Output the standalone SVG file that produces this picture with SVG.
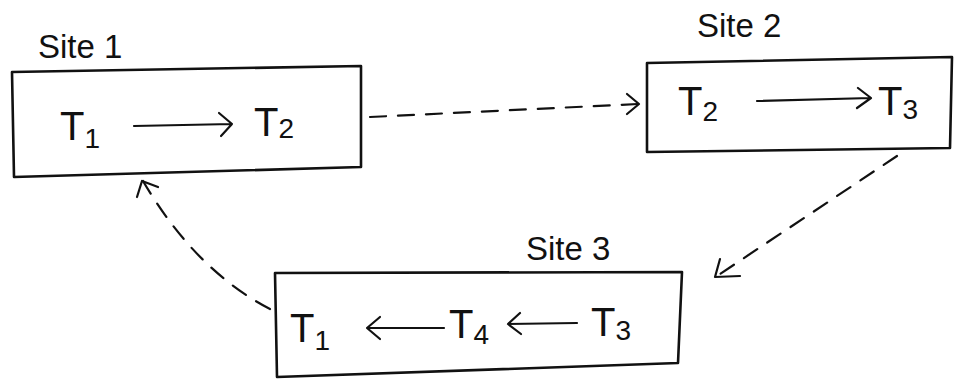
<svg xmlns="http://www.w3.org/2000/svg" width="969" height="380" viewBox="0 0 969 380">
<style>
.box{fill:none;stroke:#111;stroke-width:2.6;stroke-linejoin:round}
.lbl{font-family:"Liberation Sans",Arial,sans-serif;font-size:33px;fill:#111}
.t{font-family:"Liberation Sans",Arial,sans-serif;font-size:40px;fill:#111}
.sub{font-size:28px}
.ar{fill:none;stroke:#111;stroke-width:2.2;stroke-linecap:round;stroke-linejoin:round}
.dash{fill:none;stroke:#111;stroke-width:2.2;stroke-dasharray:16 12;stroke-linecap:round}
</style>
<rect width="969" height="380" fill="#fff"/>
<g id="site1">
<path class="box" d="M12,72 L361,66 L361,167 L14,177 Z"/>
<text class="lbl" x="38" y="58">Site 1</text>
<text class="t" x="60" y="140">T<tspan class="sub" dy="8">1</tspan></text>
<path class="ar" d="M134,126 L232,124 M219,113 L232,124 L221,136"/>
<text class="t" x="254" y="136">T<tspan class="sub" dy="2">2</tspan></text>
</g>
<g id="site2">
<path class="box" d="M647,63 L952,57 L950,148 L647,152 Z"/>
<text class="lbl" x="697" y="37">Site 2</text>
<text class="t" x="678" y="115">T<tspan class="sub" dy="6">2</tspan></text>
<path class="ar" d="M757,101 L871,98 M858,88 L871,98 L857,108"/>
<text class="t" x="878" y="115">T<tspan class="sub" dy="4">3</tspan></text>
</g>
<g id="site3">
<path class="box" d="M275,273 L682,272 L678,363 L277,377 Z"/>
<text class="lbl" x="526" y="260">Site 3</text>
<text class="t" x="290" y="342">T<tspan class="sub" dy="8">1</tspan></text>
<path class="ar" d="M444,328 L367,328 M380,317 L367,328 L380,339"/>
<text class="t" x="449" y="338">T<tspan class="sub" dy="6">4</tspan></text>
<path class="ar" d="M577,323 L508,324 M520,313 L508,324 L521,334"/>
<text class="t" x="591" y="336">T<tspan class="sub" dy="4">3</tspan></text>
</g>
<g id="connectors">
<path class="dash" d="M370,117 L638,104"/>
<path class="ar" d="M627,94 L639,104 L627,114"/>
<path class="dash" d="M897,156 L717,276"/>
<path class="ar" d="M720,259 L715,277 L740,276"/>
<path class="dash" d="M270,309 Q195,270 143,181"/>
<path class="ar" d="M137,197 L142,181 L158,187"/>
</g>
</svg>
